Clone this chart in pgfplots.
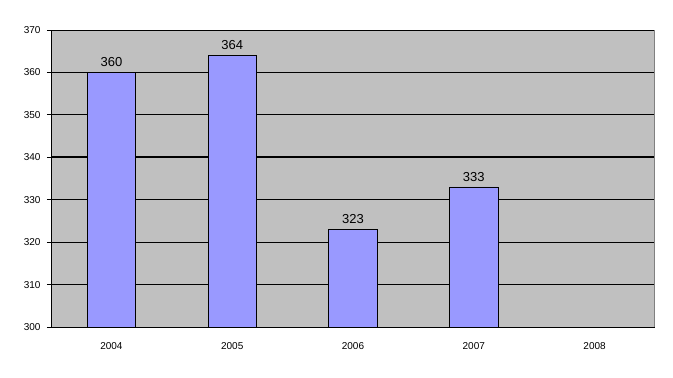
\documentclass[border=0pt]{standalone}
\usepackage{pgfplots}
\pgfplotsset{compat=1.18}
\usepackage{fontspec}
\setmainfont{Liberation Sans}
\definecolor{bggray}{HTML}{C0C0C0}
\definecolor{barblue}{HTML}{9999FF}
\begin{document}
\begin{tikzpicture}
\begin{axis}[
  name=ax,
  scale only axis, width=604pt, height=297pt,
  xmin=-0.5, xmax=4.5, ymin=300, ymax=370,
  ytick={300,310,...,370},
  xtick={0,1,2,3,4},
  xticklabels={2004,2005,2006,2007,2008},
  x tick style={draw=none},
  extra x ticks={-0.5,0.5,1.5,2.5,3.5,4.5},
  extra x tick labels={},
  extra x tick style={tick style={draw=black, line width=0.8pt}, major tick length=4pt, tick align=outside},
  y tick style={draw=black, line width=0.8pt},
  major tick length=4pt, tick align=outside,
  ymajorgrids, major grid style={black, line width=0.8pt},
  axis x line*=bottom, axis y line*=left,
  axis line style={black, line width=0.8pt, -},
  axis background/.style={fill=bggray},
  tick label style={font=\fontsize{10}{12}\selectfont},
  yticklabel style={xshift=-3pt},
  xticklabel style={yshift=-8pt},
  /pgf/number format/assume math mode=true,
  /pgf/number format/1000 sep={},
  bar width=0.4,
  every node near coord/.append style={font=\fontsize{13}{15}\selectfont, yshift=2pt, black},
  clip=false,
]
\addplot[black, line width=1.8pt, forget plot] coordinates {(-0.5,340) (4.5,340)};
\addplot[black, line width=1.8pt, forget plot] coordinates {(-0.5,360) (4.5,360)};
\addplot[ybar, fill=barblue, draw=black, line width=0.8pt, nodes near coords] coordinates {(0,360) (1,364) (2,323) (3,333)};
\addplot[gray, line width=1pt, forget plot] coordinates {(4.5,300) (4.5,370)};
\end{axis}
\pgfresetboundingbox
\path[use as bounding box] (ax.south west) ++(-51pt,-51pt) rectangle ++(673pt,378pt);
\end{tikzpicture}
\end{document}
